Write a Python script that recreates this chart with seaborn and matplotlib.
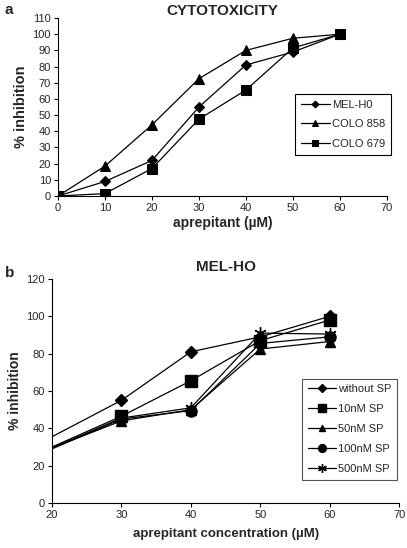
import seaborn as sns
import pandas as pd
import matplotlib.pyplot as plt
import numpy as np

sns.set_style("ticks")
plt.rcParams['font.family'] = ['Liberation Sans', 'DejaVu Sans']

# panel a: cytotoxicity
dose_a = [0, 10, 20, 30, 40, 50, 60]
mel_h0 = [0, 9, 22, 55, 81, 89, 100]
colo_858 = [0, 18.5, 44, 72.5, 90, 97.5, 100]
colo_679 = [0, 1.5, 17, 47.5, 65.5, 91.5, 100]
names_a = ["MEL-H0", "COLO 858", "COLO 679"]

# panel b: MEL-HO with substance P (line enters the axis at 20, no marker there)
dose_b = [20, 30, 40, 50, 60]
without_sp = [35.5, 55, 81, 89, 100]
sp_10 = [30, 46.5, 65.5, 87, 98]
sp_50 = [29.5, 44, 50, 82.5, 86.5]
sp_100 = [29, 45, 49.5, 85.5, 89]
sp_500 = [29.5, 45.5, 51, 91, 90.5]
names_b = ["without SP", "10nM SP", "50nM SP", "100nM SP", "500nM SP"]

fig = plt.figure(figsize=(4.07, 5.48), dpi=100)
ax1 = fig.add_axes([0.1425, 0.6423, 0.808, 0.3248])
ax2 = fig.add_axes([0.1278, 0.0821, 0.853, 0.4088])

markers_a = ["D", "^", "s"]
sizes_a = [5, 6.5, 7]
for vals, name, m, ms in zip([mel_h0, colo_858, colo_679], names_a, markers_a, sizes_a):
    sns.lineplot(x=dose_a, y=vals, ax=ax1, color="black", lw=0.9, marker=m,
                 markersize=ms, markeredgecolor="black", label=name)

series_b = [without_sp, sp_10, sp_50, sp_100, sp_500]
markers_b = ["D", "s", "^", "o", (6, 2, 0)]
sizes_b = [6, 8, 7, 8, 9]
for vals, name, m, ms in zip(series_b, names_b, markers_b, sizes_b):
    sns.lineplot(x=dose_b, y=vals, ax=ax2, color="black", lw=0.9, marker=m,
                 markersize=ms, markeredgecolor="black", markeredgewidth=1,
                 markevery=[1, 2, 3, 4], label=name)

ax1.set_xlim(0, 70)
ax1.set_ylim(0, 110)
ax1.set_xticks(range(0, 71, 10))
ax1.set_yticks(range(0, 111, 10))
ax1.set_title("CYTOTOXICITY", fontsize=11, fontweight="bold", pad=1)
ax1.set_xlabel("aprepitant (\u00b5M)", fontsize=10, fontweight="bold", labelpad=2)
ax1.set_ylabel("% inhibition", fontsize=10.5, fontweight="bold", labelpad=3)

ax2.set_xlim(20, 70)
ax2.set_ylim(0, 120)
ax2.set_xticks(range(20, 71, 10))
ax2.set_yticks(range(0, 121, 20))
ax2.set_title("MEL-HO", fontsize=11, fontweight="bold", pad=6)
ax2.set_xlabel("aprepitant concentration (\u00b5M)", fontsize=9.5, fontweight="bold", labelpad=6)
ax2.set_ylabel("% inhibition", fontsize=10, fontweight="bold", labelpad=3)

for ax in [ax1, ax2]:
    sns.despine(ax=ax)
    ax.tick_params(labelsize=8, length=3, width=0.8, color="black", pad=2)
    for s in ["left", "bottom"]:
        ax.spines[s].set_linewidth(0.8)
        ax.spines[s].set_color("black")

leg1 = ax1.legend(loc="upper left", bbox_to_anchor=(0.72, 0.575), fontsize=8,
                  fancybox=False, edgecolor="black", framealpha=1,
                  handlelength=2.6, handletextpad=0.2, labelspacing=0.85,
                  borderpad=0.55, markerscale=0.7, borderaxespad=0)
leg1.get_frame().set_linewidth(0.8)
leg2 = ax2.legend(loc="upper left", bbox_to_anchor=(0.72, 0.555), fontsize=8,
                  fancybox=False, edgecolor="#555555", framealpha=1,
                  handlelength=2.6, handletextpad=0.15, labelspacing=0.9,
                  borderpad=0.5, markerscale=0.7, borderaxespad=0)
leg2.get_frame().set_linewidth(0.8)

fig.text(0.012, 0.995, "a", fontsize=11, fontweight="bold", va="top")
fig.text(0.012, 0.515, "b", fontsize=11, fontweight="bold", va="top")

fig.savefig("out.png", dpi=100)
